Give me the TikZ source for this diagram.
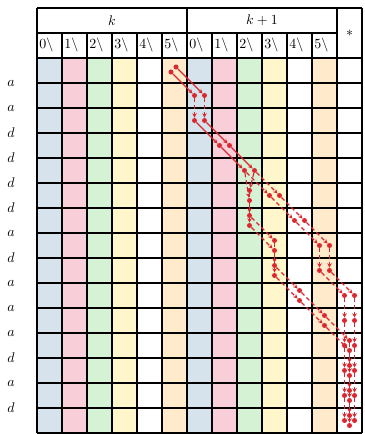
\documentclass[tikz,border=0pt]{standalone}
\usepackage{tikz}
\usetikzlibrary{arrows.meta}
\definecolor{cblue}{RGB}{214,227,237}
\definecolor{cpink}{RGB}{248,206,216}
\definecolor{cgreen}{RGB}{214,242,212}
\definecolor{cyellow}{RGB}{255,246,204}
\definecolor{corange}{RGB}{255,234,204}
\definecolor{trace}{RGB}{218,40,48}

\begin{document}
\begin{tikzpicture}[
    x=0.63cm, y=0.63cm,
    grid/.style={line width=0.9pt},
    lbl/.style={anchor=west, inner sep=1.5pt},
    dot/.style={circle, fill=trace, inner sep=0pt, minimum size=3.6pt},
    mv/.style={draw=trace, line width=0.8pt, -{Stealth[length=3.2pt, width=3.2pt]}},
    mvd/.style={mv, dash pattern=on 3pt off 2pt}
]
    \useasboundingbox (-1.48, 0.32) rectangle (13.08, -17.04);

    % ===== column colours =====
    \foreach \c/\col in {0/cblue, 1/cpink, 2/cgreen, 3/cyellow, 4/white, 5/corange} {
        \fill[\col] (\c, -2) rectangle ++(1, -15);
        \fill[\col] (\c+6, -2) rectangle ++(1, -15);
    }

    % ===== table =====
    \draw[grid] (0, 0) -- (13, 0);
    \draw[grid] (0, -1) -- (12, -1);
    \foreach \y in {-2, -3, ..., -17} \draw[grid] (0, \y) -- (13, \y);
    \foreach \x in {0, 6, 12, 13} \draw[grid] (\x, 0) -- (\x, -1);
    \foreach \x in {0, ..., 13} \draw[grid] (\x, -1) -- (\x, -17);

    \node (hk)  at (3, -0.5)  {$k$};
    \node (hk1) at (9, -0.5)  {$k+1$};
    \node (hst) at (12.5, -1) {$*$};
    \foreach \c in {0, ..., 5} {
        \node[lbl] (s\c) at (\c, -1.5)   {\c\textbackslash};
        \node[lbl] (t\c) at (\c+6, -1.5) {\c\textbackslash};
    }

    % ===== input letters =====
    \foreach \l [count=\i] in {a, a, d, d, d, d, a, d, a, a, a, d, a, d}
        \node (l\i) at (-1.04, -2-\i) {$\l$};

    % ===== trace points =====
    \node[dot] (a0) at (5.56, -2.36) {};
    \node[dot] (b0) at (5.36, -2.56) {};
    \foreach \n/\x/\y in {1/6.5/-3.5, 2/6.5/-4.5, 3/7.5/-5.5, 4/8.5/-6.5,
            5/9.5/-7.5, 6/10.5/-8.5, 7/11.5/-9.5, 8/11.5/-10.5, 9/12.5/-11.5,
            10/12.5/-12.5, 11/12.5/-13.5, 12/12.5/-14.5, 13/12.5/-15.5, 14/12.5/-16.5} {
        \node[dot] (a\n) at (\x+0.2, \y) {};
        \node[dot] (b\n) at (\x-0.2, \y) {};
    }
    \foreach \n/\x/\y in {5/8.5/-7.5, 6/8.5/-8.5, 7/9.5/-9.5, 8/9.5/-10.5, 9/10.5/-11.5,
            10/11.5/-12.5, 11/12.5/-13.5, 12/12.5/-14.5, 13/12.5/-15.5, 14/12.5/-16.5} {
        \node[dot] (xa\n) at (\x, \y+0.2) {};
        \node[dot] (xb\n) at (\x, \y-0.2) {};
    }

    % ===== moves =====
    \foreach \t in {a, b} {
        \draw[mv]  (\t0) -- (\t1);
        \draw[mvd] (\t1) -- (\t2);
        \draw[mv]  (\t2) -- (\t3);
        \draw[mv]  (\t3) -- (\t4);
        \foreach \i [evaluate=\i as \j using int(\i+1)] in {4, ..., 13}
            \draw[mvd] (\t\i) -- (\t\j);
        \draw[mvd] (\t4) -- (x\t5);
        \foreach \i [evaluate=\i as \j using int(\i+1)] in {5, ..., 13}
            \draw[mvd] (x\t\i) -- (x\t\j);
    }
\end{tikzpicture}
\end{document}
